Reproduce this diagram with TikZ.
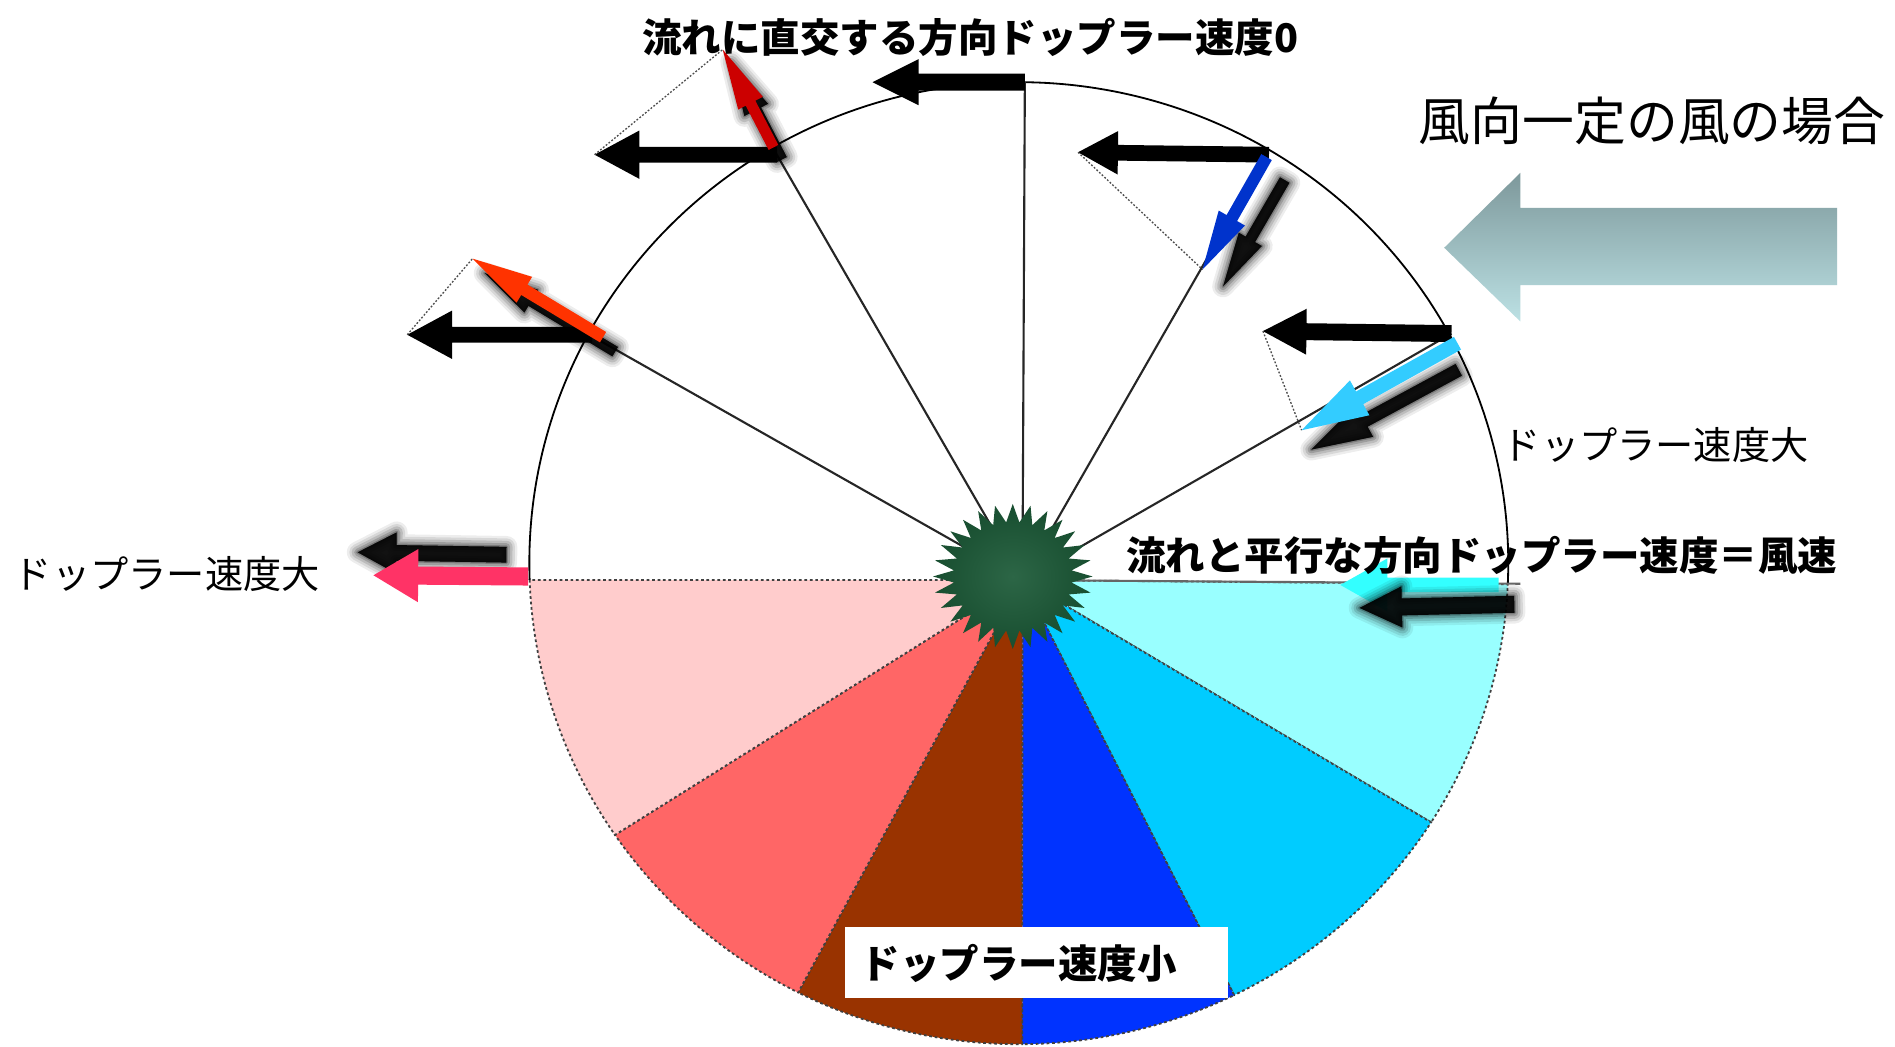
\documentclass[tikz,border=0pt]{standalone}
\usepackage{fontspec}
\newfontfamily\jp{Noto Sans CJK JP}
\usetikzlibrary{calc}

\definecolor{wpink}{HTML}{FFCCCC}
\definecolor{wsalmon}{HTML}{FF6666}
\definecolor{wbrown}{HTML}{993300}
\definecolor{wblue}{HTML}{0033FF}
\definecolor{wsky}{HTML}{00CCFF}
\definecolor{wcyan}{HTML}{99FFFF}
\definecolor{ared}{HTML}{CC0000}
\definecolor{aorange}{HTML}{FF3300}
\definecolor{ablue}{HTML}{0033CC}
\definecolor{alblue}{HTML}{33CCFF}
\definecolor{acyan}{HTML}{33FFFF}
\definecolor{apink}{HTML}{FF3366}
\definecolor{windtop}{RGB}{125,152,155}
\definecolor{windbot}{RGB}{188,225,228}
\definecolor{stardark}{RGB}{24,78,48}
\definecolor{starlight}{RGB}{44,102,70}

% block arrow: #1 style, #2 start, #3 tip, #4 shaft half width, #5 head half width, #6 head length
\newcommand\fatarrow[6]{%
  \coordinate (fa-s) at (#2);
  \coordinate (fa-t) at (#3);
  \coordinate (fa-b) at ($(fa-t)!#6!(fa-s)$);
  \path[#1] ($(fa-s)!#4!90:(fa-t)$) -- ($(fa-b)!#4!-90:(fa-s)$)
    -- ($(fa-b)!#5!-90:(fa-s)$) -- (fa-t) -- ($(fa-b)!#5!90:(fa-s)$)
    -- ($(fa-b)!#4!90:(fa-s)$) -- ($(fa-s)!#4!-90:(fa-t)$) -- cycle;
}
% soft-edged black arrow
\newcommand\softarrow[5]{%
  \foreach \w/\o in {3.6mm/0.07,2.8mm/0.09,2mm/0.12,1.2mm/0.16,0.5mm/0.22}{%
    \fatarrow{draw=black,fill=black,line width=\w,line join=round,opacity=\o}{#1}{#2}{#3}{#4}{#5}}
  \fatarrow{fill=black,opacity=0.85}{#1}{#2}{#3}{#4}{#5}
}

\tikzset{
  wedge/.style={fill=#1, draw=black!75, line width=0.3mm, dash pattern=on 0.45mm off 0.45mm},
  ray/.style={draw=black!85, line width=0.35mm},
  proj/.style={draw=black!70, line width=0.22mm, dash pattern=on 0.3mm off 0.3mm},
  wind/.style={fill=black},
  jptext/.style={font=\jp\fontsize{18}{20}\selectfont, inner sep=0pt},
  jpbold/.style={font=\jp\bfseries\fontsize{18.6}{20}\selectfont, inner sep=0pt},
}

\begin{document}
\begin{tikzpicture}[x=0.2mm,y=-0.2mm]
\useasboundingbox (0,0) rectangle (1568,866);
\fill[white] (0,0) rectangle (1568,866);

% centres
\coordinate (H) at (846,480);
\coordinate (O) at (843,466);

% points on the rim
\coordinate (Ptop) at (848,68);
\coordinate (Pb) at (641,125);
\coordinate (Pc) at (493,280);
\coordinate (Pd) at (1048,128);
\coordinate (Pe) at (1201,276);
\coordinate (Pf) at (1258,483);

% coloured sectors of the lower half
\path[wedge=wcyan]   (H) -- ($(O)+(2.5:405 and 398)$)   arc[start angle=2.5,  end angle=32.6,  x radius=405, y radius=398] -- cycle;
\path[wedge=wsky]    (H) -- ($(O)+(32.6:405 and 398)$)  arc[start angle=32.6, end angle=63.9,  x radius=405, y radius=398] -- cycle;
\path[wedge=wblue]   (H) -- ($(O)+(63.9:405 and 398)$)  arc[start angle=63.9, end angle=89.6,  x radius=405, y radius=398] -- cycle;
\path[wedge=wbrown]  (H) -- ($(O)+(89.6:405 and 398)$)  arc[start angle=89.6, end angle=116.8, x radius=405, y radius=398] -- cycle;
\path[wedge=wsalmon] (H) -- ($(O)+(116.8:405 and 398)$) arc[start angle=116.8,end angle=145.6, x radius=405, y radius=398] -- cycle;
\path[wedge=wpink]   (H) -- ($(O)+(145.6:405 and 398)$) arc[start angle=145.6,end angle=178,   x radius=405, y radius=398] -- cycle;

% upper rim and radial lines
\draw[black, line width=0.3mm] ($(O)+(178:405 and 398)$) arc[start angle=178, end angle=362.5, x radius=405, y radius=398];
\draw[ray] (H) -- (Ptop);
\draw[ray] (H) -- (Pb);
\draw[ray] (H) -- (Pc);
\draw[ray] (H) -- (Pd);
\draw[ray] (H) -- (Pe);
\draw[ray, draw=black!60] (H) -- (Pf);

% spiky radar site in the middle
\shade[inner color=starlight, outer color=stardark]
  plot[samples=57, domain=0:56, variable=\k]
  ({838+(66-17*mod(\k,2))*cos(\k*6.42857)},{477+(60-15*mod(\k,2))*sin(\k*6.42857)}) -- cycle;

% wind vectors (black) and their tips
\coordinate (Ta) at (722,68);
\coordinate (Sb) at (643,128);  \coordinate (Tb) at (492,128);
\coordinate (Sc) at (490,277);  \coordinate (Tc) at (337,277);
\coordinate (Sd) at (1050,128); \coordinate (Td) at (892,126);
\coordinate (Te) at (1045,274);
\fatarrow{wind}{Ptop}{Ta}{1.4mm}{3.8mm}{7.6mm}
\fatarrow{wind}{Sb}{Tb}{1.3mm}{4mm}{7.4mm}
\fatarrow{wind}{Sc}{Tc}{1.3mm}{4mm}{7.4mm}
\fatarrow{wind}{Sd}{Td}{1.3mm}{3.6mm}{6.6mm}
\fatarrow{wind}{Pe}{Te}{1.4mm}{3.8mm}{7.2mm}

% radial components: tips, projection lines, shadows, arrows
\coordinate (Rb0) at (640,122);  \coordinate (Rb) at (598,41);
\coordinate (Rc0) at (499,279);  \coordinate (Rc) at (391,214);
\coordinate (Rd0) at (1048,130); \coordinate (Rd) at (995,223);
\coordinate (Re0) at (1206,284); \coordinate (Re) at (1077,356);

\draw[proj] (Tb) -- (Rb);
\draw[proj] (Tc) -- (Rc);
\draw[proj] (Td) -- (Rd);
\draw[proj] (Te) -- (Re);

\softarrow{$(Rb0)+(7,10)$}{$(Rb)+(7,10)$}{0.9mm}{2.2mm}{9mm}
\softarrow{$(Rc0)+(10,12)$}{$(Rc)+(10,12)$}{0.9mm}{2.2mm}{9mm}
\softarrow{1063,149}{1012,237}{0.9mm}{2.2mm}{9mm}
\softarrow{1207,306}{1085,372}{1.1mm}{3mm}{10mm}

\fatarrow{fill=ared}{Rb0}{Rb}{0.9mm}{2.3mm}{10mm}
\fatarrow{fill=aorange}{Rc0}{Rc}{1mm}{2.5mm}{10mm}
\fatarrow{fill=ablue}{Rd0}{Rd}{1mm}{2.5mm}{9.8mm}
\fatarrow{fill=alblue}{Re0}{Re}{1.2mm}{3.3mm}{11mm}

% horizontal vectors on the east and west rim
\coordinate (Sf) at (1240,484); \coordinate (Tf) at (1109,484);
\coordinate (Sg) at (437,477);  \coordinate (Tg) at (309,476);
\fatarrow{fill=acyan}{Sf}{Tf}{1.2mm}{4.4mm}{7.8mm}
\softarrow{1253,500}{1125,503}{1.4mm}{3.4mm}{7mm}
\softarrow{419,459}{296,457}{1.3mm}{3.4mm}{6.4mm}
\fatarrow{fill=apink}{Sg}{Tg}{1.5mm}{4.4mm}{7.4mm}

% big wind arrow
\shade[top color=windtop, bottom color=windbot]
  (1195,205) -- (1258,143) -- (1258,172) -- (1520,172) -- (1520,236)
  -- (1258,236) -- (1258,266) -- cycle;

% labels
\node[jpbold] (title) at (803,31) {流れに直交する方向ドップラー速度0};
\node[inner sep=0pt, font=\jp\fontsize{24.4}{26}\selectfont] (case) at (1367,100) {風向一定の風の場合};
\node[jptext] (bigR) at (1370,368) {ドップラー速度大};
\node[jpbold] (para) at (1226,460) {流れと平行な方向ドップラー速度＝風速};
\node[jptext] (bigL) at (138,475) {ドップラー速度大};
\node[fill=white, minimum width=317*0.2mm, minimum height=59*0.2mm, inner sep=0pt] (smallbox) at (857.5,796.5) {};
\node[jpbold, anchor=west] (small) at (712,797) {ドップラー速度小};
\end{tikzpicture}
\end{document}
